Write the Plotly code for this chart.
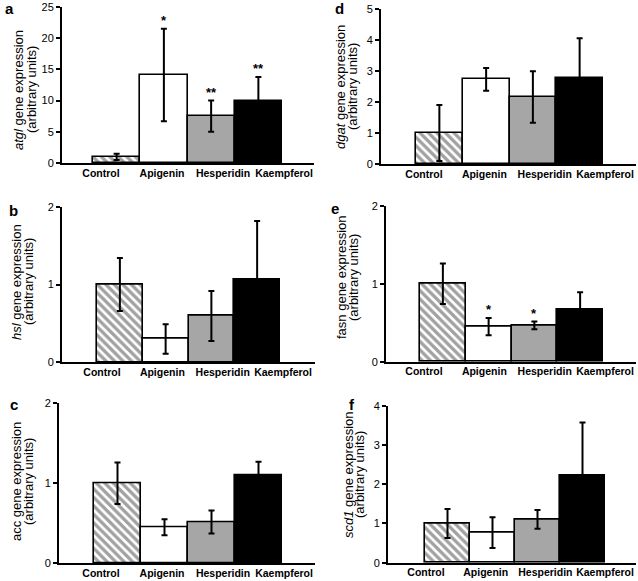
import plotly.graph_objects as go

W, H = 638, 581

categories = ["Control", "Apigenin", "Hesperidin", "Kaempferol"]

atgl_mean = [1.0, 14.1, 7.5, 9.9]
atgl_err = [0.5, 7.4, 2.5, 3.9]
atgl_sig = ["", "*", "**", "**"]

dgat_mean = [1.0, 2.73, 2.16, 2.76]
dgat_err = [0.9, 0.37, 0.83, 1.3]
dgat_sig = ["", "", "", ""]

hsl_mean = [1.0, 0.30, 0.595, 1.067]
hsl_err = [0.34, 0.19, 0.32, 0.75]
hsl_sig = ["", "", "", ""]

fasn_mean = [1.0, 0.45, 0.465, 0.67]
fasn_err = [0.26, 0.11, 0.05, 0.22]
fasn_sig = ["", "*", "*", ""]

acc_mean = [1.0, 0.45, 0.516, 1.10]
acc_err = [0.26, 0.10, 0.145, 0.17]
acc_sig = ["", "", "", ""]

scd1_mean = [1.0, 0.765, 1.105, 2.22]
scd1_err = [0.37, 0.39, 0.24, 1.35]
scd1_sig = ["", "", "", ""]

FONT = "Liberation Sans, Arial, sans-serif"
bar_colors = ["white", "white", "#a6a6a6", "black"]
bar_patterns = ["\\", "", "", ""]

# panel geometry in pixels (layout only)
panels = [
    dict(gene="atgl", ital=True, mean=atgl_mean, err=atgl_err, sig=atgl_sig, ymax=25, dtick=5, letter="a",
         axL=62, axR=314, top=7, bot=163, barL=93, barR=282, labL=101, labR=284,
         tx1=19, tx2=32, ty=90, lx=10, ly=8),
    dict(gene="dgat", ital=True, mean=dgat_mean, err=dgat_err, sig=dgat_sig, ymax=5, dtick=1, letter="d",
         axL=381, axR=636, top=9, bot=164, barL=416, barR=603, labL=424, labR=605,
         tx1=340, tx2=352, ty=87, lx=339, ly=8),
    dict(gene="hsl", ital=True, mean=hsl_mean, err=hsl_err, sig=hsl_sig, ymax=2, dtick=1, letter="b",
         axL=62, axR=315, top=206.7, bot=362.3, barL=97, barR=280, labL=102, labR=283,
         tx1=17, tx2=29, ty=282, lx=13, ly=210),
    dict(gene="fasn", ital=False, mean=fasn_mean, err=fasn_err, sig=fasn_sig, ymax=2, dtick=1, letter="e",
         axL=386, axR=636, top=205.7, bot=361.7, barL=420, barR=603, labL=424, labR=605,
         tx1=341, tx2=353, ty=277, lx=335, ly=209),
    dict(gene="acc", ital=False, mean=acc_mean, err=acc_err, sig=acc_sig, ymax=2, dtick=1, letter="c",
         axL=59, axR=315, top=403.3, bot=563.3, barL=94, barR=282, labL=101, labR=284,
         tx1=16, tx2=28, ty=482, lx=14, ly=405),
    dict(gene="scd1", ital=True, mean=scd1_mean, err=scd1_err, sig=scd1_sig, ymax=4, dtick=1, letter="f",
         axL=388, axR=636, top=405.7, bot=562.7, barL=425, barR=605, labL=426, labR=605,
         tx1=348, tx2=359, ty=475, lx=352, ly=404),
]

fig = go.Figure()
layout = {}
annotations = []
xs = list(range(len(categories)))

for i, p in enumerate(panels):
    nb = 2 * i + 1
    nl = 2 * i + 2
    ny = i + 1
    xb = "x" if nb == 1 else f"x{nb}"
    xl = f"x{nl}"
    yid = "y" if ny == 1 else f"y{ny}"
    xb_key = "xaxis" if nb == 1 else f"xaxis{nb}"
    xl_key = f"xaxis{nl}"
    y_key = "yaxis" if ny == 1 else f"yaxis{ny}"

    dom_x = [p["axL"] / W, p["axR"] / W]
    dom_y = [1 - p["bot"] / H, 1 - p["top"] / H]

    u = (p["barR"] - p["barL"]) / 4.0
    xr = [-0.5 - (p["barL"] - p["axL"]) / u, 3.5 + (p["axR"] - p["barR"]) / u]
    s = (p["labR"] - p["labL"]) / 3.0
    lr = [-(p["labL"] - p["axL"]) / s, 3 + (p["axR"] - p["labR"]) / s]

    fig.add_trace(go.Bar(
        x=xs, y=p["mean"], width=1, xaxis=xb, yaxis=yid,
        marker=dict(color=bar_colors, line=dict(color="black", width=1.6),
                    pattern=dict(shape=bar_patterns, fgcolor="black", size=6, solidity=0.55)),
        error_y=dict(type="data", array=p["err"], color="black", thickness=2, width=3),
        showlegend=False, hoverinfo="skip",
    ))
    # invisible trace that carries the category-label axis
    fig.add_trace(go.Scatter(
        x=xs, y=[0] * len(xs), xaxis=xl, yaxis=yid, mode="markers",
        marker=dict(opacity=0), showlegend=False, hoverinfo="skip",
    ))

    layout[xb_key] = dict(domain=dom_x, anchor=yid, range=xr, showticklabels=False, ticks="",
                          showline=True, linecolor="black", linewidth=2, showgrid=False,
                          zeroline=False, fixedrange=True, automargin=False)
    layout[xl_key] = dict(overlaying=xb, anchor=yid, side="bottom", range=lr,
                          tickmode="array", tickvals=xs, ticktext=categories, ticks="",
                          showline=False, showgrid=False, zeroline=False, automargin=False,
                          fixedrange=True, ticklabelstandoff=2,
                          tickfont=dict(family=FONT, size=10.5, color="black", weight="bold"))
    layout[y_key] = dict(domain=dom_y, anchor=xb, range=[0, p["ymax"]], dtick=p["dtick"],
                         tick0=0, showline=True, linecolor="black", linewidth=2,
                         ticks="outside", ticklen=4, tickwidth=1.5, tickcolor="black",
                         showgrid=False, zeroline=False, fixedrange=True, automargin=False,
                         tickfont=dict(family=FONT, size=11, color="black"))

    gene_txt = f"<i>{p['gene']}</i>" if p["ital"] else p["gene"]
    annotations.append(dict(xref="paper", yref="paper", x=p["tx1"] / W, y=1 - p["ty"] / H,
                            text=f"{gene_txt} gene expression", textangle=-90, showarrow=False,
                            xanchor="center", yanchor="middle",
                            font=dict(family=FONT, size=13, color="black")))
    annotations.append(dict(xref="paper", yref="paper", x=p["tx2"] / W, y=1 - p["ty"] / H,
                            text="(arbitrary units)", textangle=-90, showarrow=False,
                            xanchor="center", yanchor="middle",
                            font=dict(family=FONT, size=13, color="black")))
    annotations.append(dict(xref="paper", yref="paper", x=p["lx"] / W, y=1 - p["ly"] / H,
                            text=f"<b>{p['letter']}</b>", showarrow=False,
                            xanchor="center", yanchor="middle",
                            font=dict(family=FONT, size=15, color="black")))
    for j, sg in enumerate(p["sig"]):
        if sg:
            annotations.append(dict(xref=xb, yref=yid, x=j, y=p["mean"][j] + p["err"][j],
                                    text=f"<b>{sg}</b>", showarrow=False, xanchor="center",
                                    yanchor="bottom", yshift=-1,
                                    font=dict(family=FONT, size=13, color="black")))

fig.update_layout(
    width=W, height=H, margin=dict(l=0, r=0, t=0, b=0, pad=0, autoexpand=False),
    paper_bgcolor="white", plot_bgcolor="white",
    bargap=0, annotations=annotations, **layout,
)

fig.write_html("out.html", config={"displayModeBar": False},
               post_script="document.body.style.margin='0';")
